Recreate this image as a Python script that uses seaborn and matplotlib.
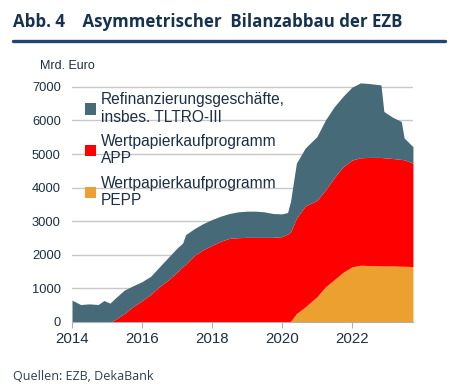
import pandas as pd
import numpy as np
import matplotlib.pyplot as plt
import matplotlib.dates as mdates
import seaborn as sns

# =====================================
# Data (Mrd. Euro)
# =====================================

dates = ["2014-01", "2014-04", "2014-07", "2014-10", "2014-12", "2015-02",
         "2015-04", "2015-07", "2015-10", "2016-01", "2016-04", "2016-07",
         "2016-10", "2017-01", "2017-03", "2017-04", "2017-07", "2017-10",
         "2018-01", "2018-04", "2018-07", "2018-10", "2019-01", "2019-04",
         "2019-07", "2019-10", "2020-01", "2020-03", "2020-04", "2020-06",
         "2020-09", "2021-01", "2021-04", "2021-07", "2021-10", "2022-01",
         "2022-04", "2022-07", "2022-11", "2022-12", "2023-03", "2023-06",
         "2023-07", "2023-10"]

# Bilanz total (top of the stack)
total = [650, 520, 540, 520, 640, 560,
         720, 950, 1080, 1200, 1360, 1640,
         1920, 2200, 2350, 2600, 2780, 2930,
         3050, 3150, 3230, 3280, 3300, 3300,
         3280, 3230, 3220, 3260, 3600, 4730,
         5180, 5520, 6020, 6410, 6720, 6990,
         7120, 7100, 7060, 6270, 6100, 5970,
         5480, 5220]

# APP + PEPP (top of red)
app_pepp = [0, 0, 0, 0, 0, 0,
            80, 250, 460, 630, 820, 1050,
            1250, 1480, 1650, 1720, 1980, 2150,
            2280, 2400, 2490, 2510, 2520, 2520,
            2520, 2520, 2540, 2620, 2680, 3090,
            3450, 3620, 3930, 4300, 4620, 4820,
            4890, 4900, 4900, 4890, 4870, 4840,
            4830, 4730]

pepp = [0, 0, 0, 0, 0, 0,
        0, 0, 0, 0, 0, 0,
        0, 0, 0, 0, 0, 0,
        0, 0, 0, 0, 0, 0,
        0, 0, 0, 0, 20, 250,
        450, 750, 1050, 1260, 1480, 1640,
        1690, 1680, 1670, 1670, 1670, 1660,
        1660, 1650]

labels = ["Refinanzierungsgeschäfte,\ninsbes. TLTRO-III",
          "Wertpapierkaufprogramm\nAPP",
          "Wertpapierkaufprogramm\nPEPP"]
colors = ["#476a78", "#ff0000", "#eca030"]

df = pd.DataFrame({"date": pd.to_datetime(dates),
                   "PEPP": pepp,
                   "APP": np.array(app_pepp) - np.array(pepp),
                   "Refi": np.array(total) - np.array(app_pepp)})

# =====================================
# Plot
# =====================================

sns.set_style("white")
plt.rcParams["font.family"] = ["Liberation Sans", "DejaVu Sans"]

fig = plt.figure(figsize=(4.69, 3.91), dpi=100)
ax = fig.add_axes([0.1535, 0.1765, 0.727, 0.627])

polys = ax.stackplot(df["date"], df["PEPP"], df["APP"], df["Refi"],
                     colors=colors[::-1], linewidth=0, zorder=2)

ax.set_ylim(0, 7300)
ax.set_yticks(range(0, 7001, 1000))
ax.set_xlim(pd.Timestamp("2014-01-01"), pd.Timestamp("2023-10-01"))
ax.xaxis.set_major_locator(mdates.YearLocator(2))
ax.xaxis.set_major_formatter(mdates.DateFormatter("%Y"))

ax.grid(axis="y", color="#c8c8c8", linewidth=1, zorder=0)
ax.set_axisbelow(True)
for s in ["top", "right", "left"]:
    ax.spines[s].set_visible(False)
ax.spines["bottom"].set_color("#b0b0b0")
ax.spines["bottom"].set_zorder(3)

ax.tick_params(axis="y", length=0, labelsize=9.3, labelcolor="#1c2f45", pad=8)
ax.tick_params(axis="x", length=4, color="#b0b0b0", direction="out",
               bottom=True, labelsize=10.8, labelcolor="#1c2f45", pad=3)

handles = [polys[2], polys[1], polys[0]]
leg = ax.legend(handles, labels, loc="upper left", bbox_to_anchor=(0.01, 0.975),
                frameon=False, fontsize=11.2, handlelength=0.75, handleheight=0.75,
                handletextpad=0.3, labelspacing=0.6, borderaxespad=0.2)
for t in leg.get_texts():
    t.set_color("#1c2f45")
    t.set_linespacing(1.2)

fig.text(40 / 469, 1 - 66 / 391, "Mrd. Euro", fontsize=9, color="#1c2f45",
         va="center", ha="left")

# title + rule
fig.text(13 / 469, 1 - 22 / 391, "Abb. 4    Asymmetrischer  Bilanzabbau der EZB",
         fontsize=12.2, fontweight="bold", color="#16324f", va="center",
         ha="left", family=["Open Sans", "DejaVu Sans"])
fig.add_artist(plt.Line2D([13 / 469, 445 / 469], [1 - 41 / 391, 1 - 41 / 391],
                          color="#1f4577", linewidth=2.4,
                          transform=fig.transFigure))

fig.text(13 / 469, 1 - 376 / 391, "Quellen: EZB, DekaBank", fontsize=9,
         color="#2e3d4f", va="center", ha="left",
         family=["Open Sans", "DejaVu Sans"])

plt.savefig("out.png", dpi=100)
